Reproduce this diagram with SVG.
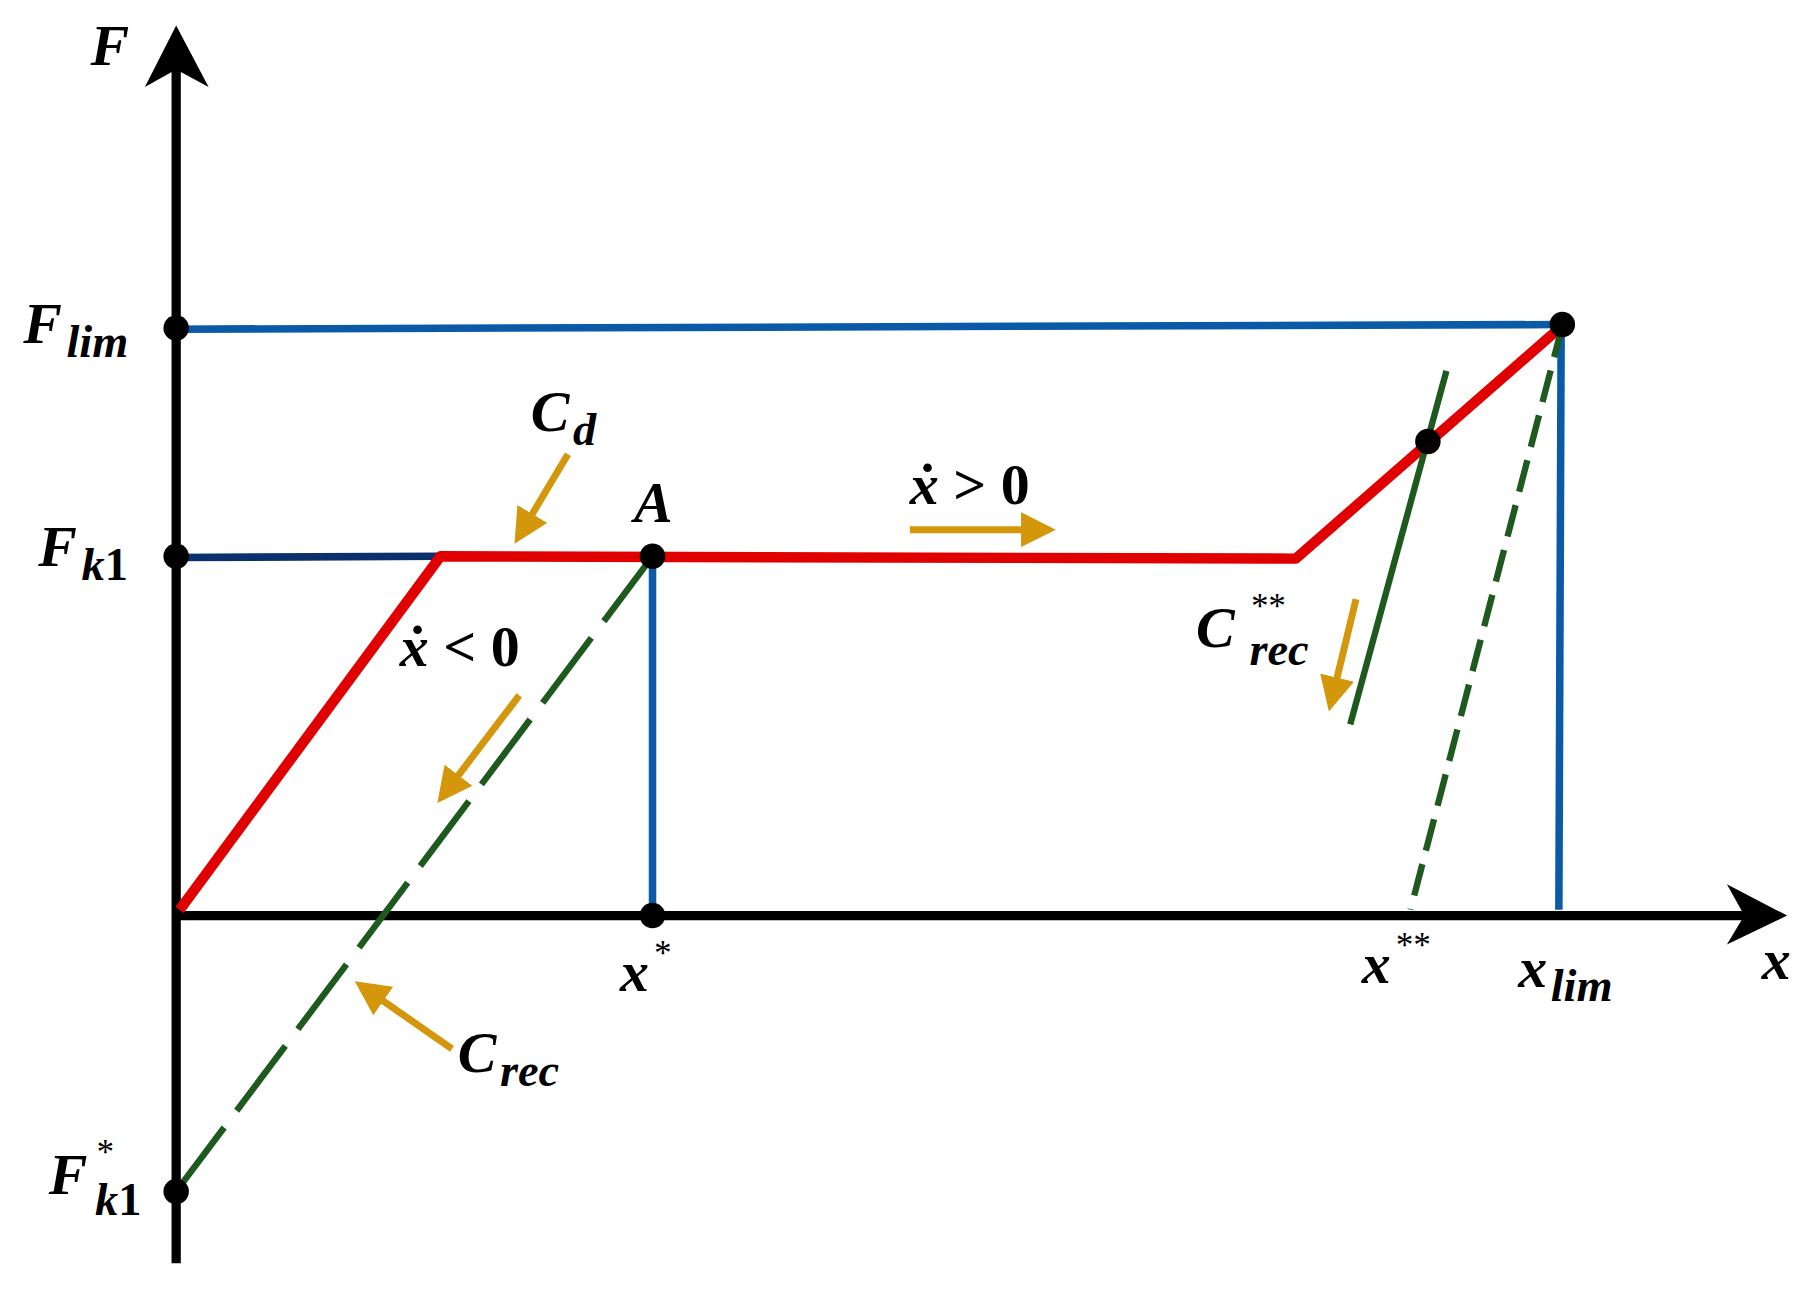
<svg xmlns="http://www.w3.org/2000/svg" width="1808" height="1300" viewBox="0 0 1808 1300">
<defs>
<style>
.t{font-family:"Liberation Serif",serif;font-weight:bold;font-style:italic;font-size:50px;fill:#000}
.u{font-family:"Liberation Serif",serif;font-weight:bold;font-style:normal}
.s{font-size:40px}
.p{font-size:30px;font-weight:normal}
.or{stroke:#d4960a;stroke-width:6;fill:none}
</style>
<marker id="oa" markerWidth="5" markerHeight="5" refX="4" refY="2.5" orient="auto" markerUnits="strokeWidth"><path d="M0,0 L5,2.5 L0,5 Z" fill="#d4960a"/></marker>
</defs>
<rect width="1808" height="1300" fill="#fff"/>
<g transform="scale(1.159)">
<g id="axes" stroke="#000" stroke-width="8">
<line x1="152" y1="1090" x2="152" y2="40"/>
<line x1="152" y1="790" x2="1520" y2="790"/>
<path d="M152,22 L180,75 L152,60 L125,75 Z" fill="#000" stroke="none"/>
<path d="M1542,790 L1490,815 L1505,790 L1490,763 Z" fill="#000" stroke="none"/>
</g>
<g id="connectors" fill="none">
<line x1="152" y1="284" x2="1348" y2="280" stroke="#0a5aa8" stroke-width="6.5"/>
<line x1="1347" y1="280" x2="1345" y2="785" stroke="#0a5aa8" stroke-width="6.5"/>
<line x1="563" y1="480" x2="563" y2="790" stroke="#0a5aa8" stroke-width="6.5"/>
<line x1="152" y1="481" x2="380" y2="480" stroke="#0c2f6e" stroke-width="6.5"/>
<polyline points="155,785 380,480 1118,482 1348,281" stroke="#e00000" stroke-width="9" stroke-linejoin="round"/>
<line x1="563" y1="480" x2="152" y2="1028" stroke="#1e5a1e" stroke-width="5.5" stroke-dasharray="70,18"/>
<line x1="1348" y1="281" x2="1217" y2="785" stroke="#1e5a1e" stroke-width="5.5" stroke-dasharray="28,12"/>
<line x1="1248" y1="320" x2="1165" y2="625" stroke="#1e5a1e" stroke-width="5.5"/>
<line x1="490" y1="392" x2="447" y2="464" class="or" marker-end="url(#oa)"/>
<line x1="785" y1="457" x2="905" y2="457" class="or" marker-end="url(#oa)"/>
<line x1="448" y1="600" x2="381" y2="688" class="or" marker-end="url(#oa)"/>
<line x1="1170" y1="517" x2="1148" y2="608" class="or" marker-end="url(#oa)"/>
<line x1="390" y1="905" x2="311" y2="850" class="or" marker-end="url(#oa)"/>
</g>
<g id="points" fill="#000">
<circle cx="152" cy="283" r="11"/><circle cx="152" cy="480" r="11"/><circle cx="152" cy="1028" r="11"/>
<circle cx="563" cy="480" r="11"/><circle cx="563" cy="790" r="11"/><circle cx="1232" cy="381" r="11"/><circle cx="1348" cy="280" r="11"/>
</g>
<g id="labels">
<text class="t" x="78" y="56">F</text>
<text class="t" x="20" y="296">F<tspan class="s" dx="4" dy="12">lim</tspan></text>
<text class="t" x="33" y="488">F<tspan class="s" dx="4" dy="12">k</tspan><tspan class="u s">1</tspan></text>
<text class="t" x="42" y="1030">F</text>
<text class="t p" x="82" y="1004">*</text>
<text class="t s" x="82" y="1048">k<tspan class="u">1</tspan></text>
<text class="t" x="1032" y="558">C</text>
<text class="t p" x="1078" y="533">**</text>
<text class="t s" x="1078" y="574">rec</text>
<text class="t" x="458" y="372">C<tspan class="s" dx="3" dy="12">d</tspan></text>
<text class="t" x="547" y="450">A</text>
<text class="t" x="785" y="435">ẋ <tspan class="u">&gt; 0</tspan></text>
<text class="t" x="345" y="575">ẋ <tspan class="u">&lt; 0</tspan></text>
<text class="t" x="535" y="855">x<tspan class="p" dx="3" dy="-22">*</tspan></text>
<text class="t" x="1175" y="848">x<tspan class="p" dx="3" dy="-22">**</tspan></text>
<text class="t" x="1310" y="852">x<tspan class="s" dx="3" dy="12">lim</tspan></text>
<text class="t" x="1520" y="845">x</text>
<text class="t" x="395" y="925">C<tspan class="s" dx="3" dy="12">rec</tspan></text>
</g>
</g>
</svg>
